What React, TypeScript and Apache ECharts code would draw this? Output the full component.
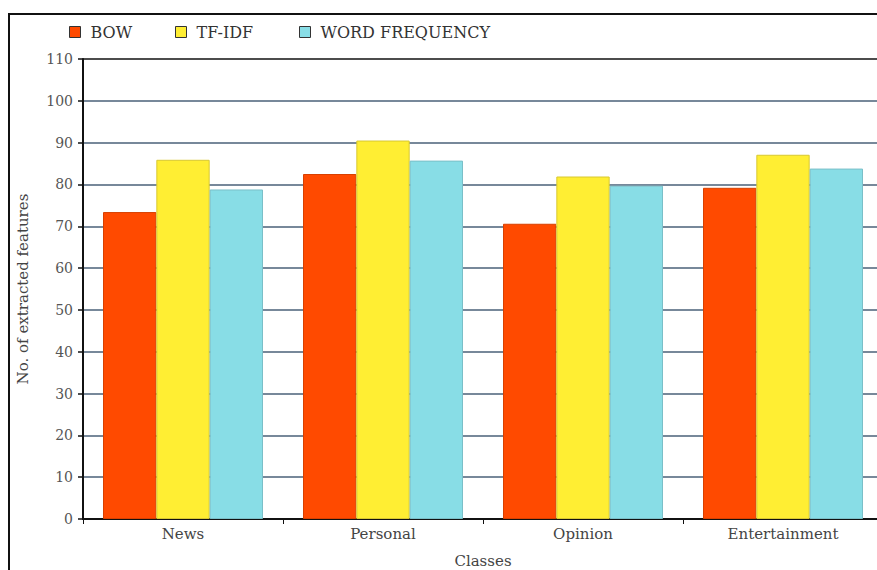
import React, { useEffect, useRef } from "react";
import * as echarts from "echarts";

const categories = ["News", "Personal", "Opinion", "Entertainment"];
const seriesNames = ["BOW", "TF-IDF", "WORD FREQUENCY"];
const bowValues = [73.4, 82.5, 70.6, 79.2];
const tfidfValues = [85.9, 90.5, 81.9, 87.1];
const wordFreqValues = [78.8, 85.7, 79.7, 83.8];
const colors = ["#FF4A00", "#FFEE33", "#88DDE6"];
const borderColors = ["#D84000", "#D8C830", "#7ABFC8"];
const legendLefts = [64, 170, 294];

const FONT = "DejaVu Serif";

// gridlines are slate blue; the topmost one closes the plot frame in black
const gridColors = Array.from({ length: 12 }, (_, i) => (i === 11 ? "#111" : "#4A6078"));

export default function App() {
  const ref = useRef<HTMLDivElement>(null);

  useEffect(() => {
    document.body.style.margin = "0";
    document.body.style.overflow = "hidden";
    document.documentElement.style.overflow = "hidden";
    const chart = echarts.init(ref.current!, null, { renderer: "svg" });
    const values = [bowValues, tfidfValues, wordFreqValues];
    chart.setOption({
      animation: false,
      backgroundColor: "#ffffff",
      textStyle: { fontFamily: FONT, color: "#444" },
      graphic: [
        {
          type: "rect",
          shape: { x: 9, y: 14, width: 900, height: 600 },
          style: { fill: "none", stroke: "#111", lineWidth: 2 },
          silent: true,
          z: -1,
        },
      ],
      legend: seriesNames.map((n, i) => ({
        left: legendLefts[i],
        top: 19,
        itemWidth: 11,
        itemHeight: 11,
        icon: "rect",
        textStyle: { fontFamily: FONT, fontSize: 16, color: "#333", padding: [0, 0, 0, 5] },
        data: [
          {
            name: n,
            itemStyle: { color: colors[i], borderColor: "#333", borderWidth: 1 },
          },
        ],
      })),
      grid: {
        left: 83,
        width: 800,
        top: 59,
        bottom: 51,
        containLabel: false,
        outerBoundsMode: "none",
      },
      xAxis: {
        type: "category",
        data: categories,
        name: "Classes",
        nameLocation: "middle",
        nameGap: 34,
        nameTextStyle: { fontFamily: FONT, fontSize: 15, color: "#444" },
        axisLine: { lineStyle: { color: "#111", width: 2 } },
        axisTick: { show: true, length: 5, lineStyle: { color: "#111", width: 1 } },
        axisLabel: { fontFamily: FONT, fontSize: 15, color: "#444", margin: 7 },
        splitLine: { show: false },
      },
      yAxis: {
        type: "value",
        min: 0,
        max: 110,
        interval: 10,
        name: "No. of extracted features",
        nameLocation: "middle",
        nameGap: 53,
        nameRotate: 90,
        nameTextStyle: { fontFamily: FONT, fontSize: 15, color: "#444" },
        axisLine: { show: true, lineStyle: { color: "#111", width: 2 } },
        axisTick: { show: true, length: 5, lineStyle: { color: "#111", width: 1.5 } },
        axisLabel: { fontFamily: FONT, fontSize: 14, color: "#555", margin: 10 },
        splitLine: { show: true, lineStyle: { color: gridColors, width: 1.5 } },
      },
      series: seriesNames.map((n, i) => ({
        name: n,
        type: "bar",
        data: values[i],
        barGap: "0%",
        barCategoryGap: "20%",
        itemStyle: { color: colors[i], borderColor: borderColors[i], borderWidth: 1 },
      })),
    });
    return () => chart.dispose();
  }, []);

  return <div ref={ref} style={{ width: 877, height: 570, overflow: "hidden" }} />;
}
